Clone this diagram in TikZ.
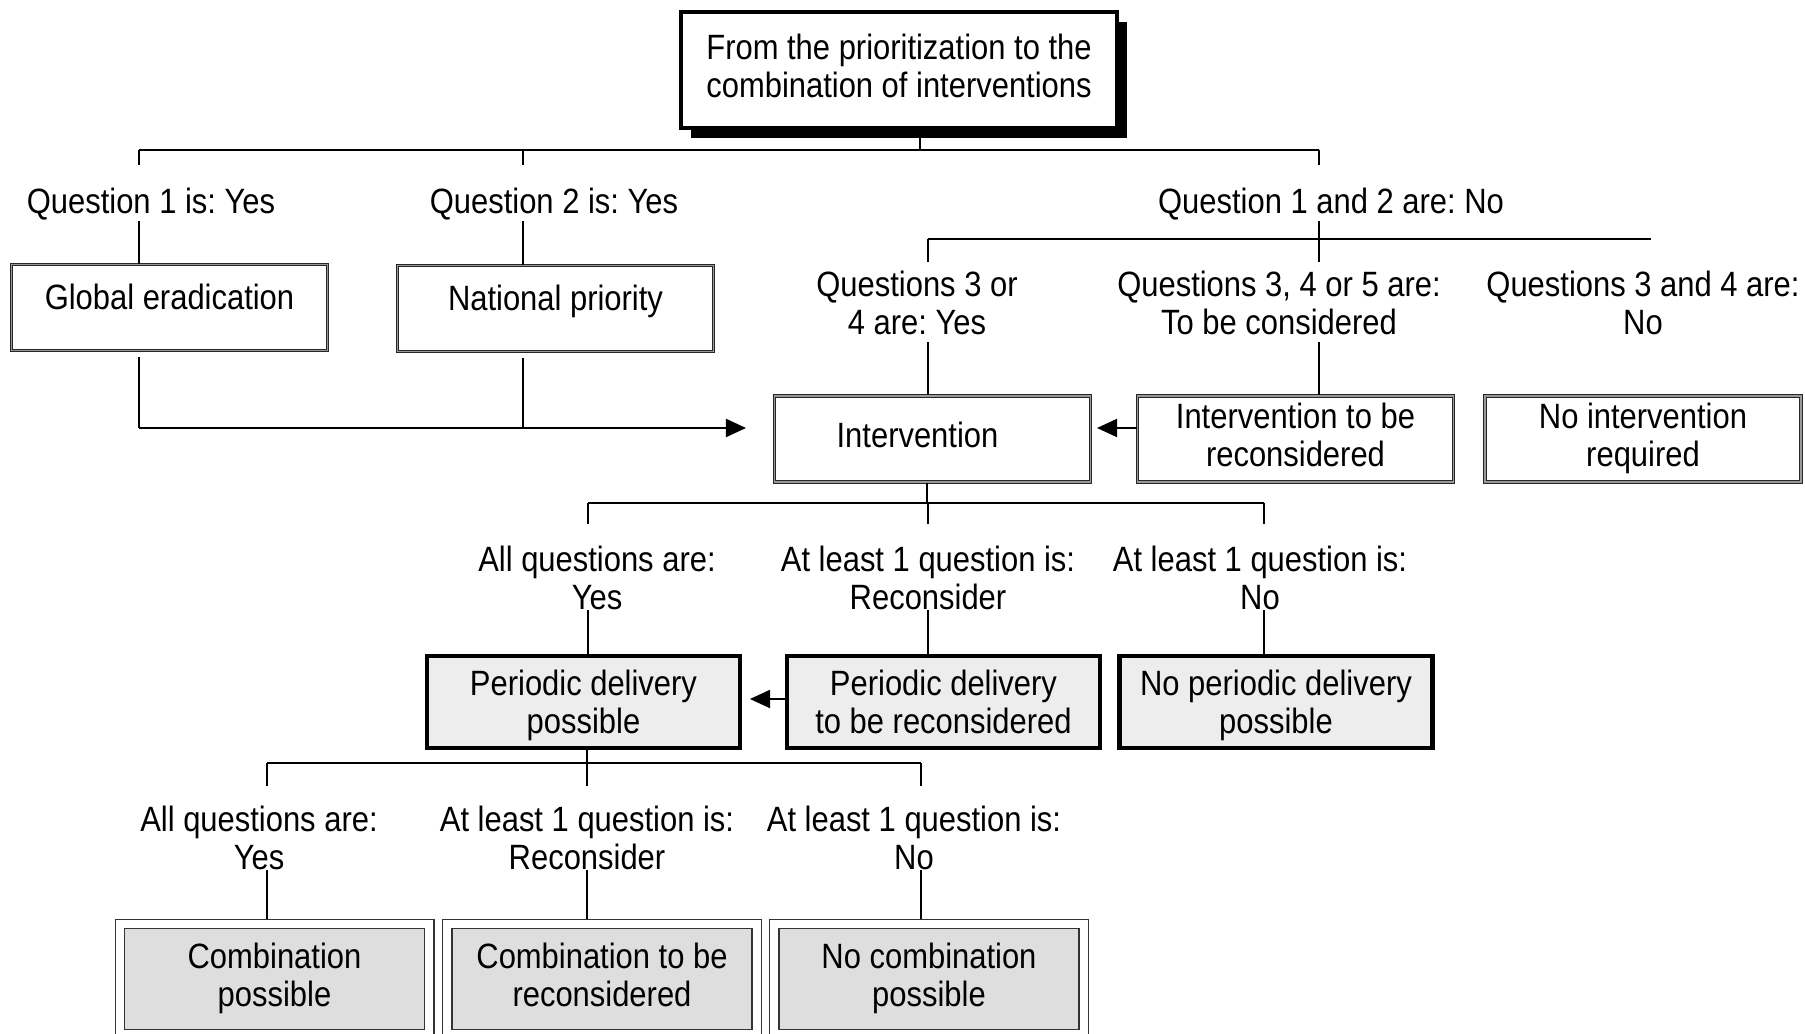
\documentclass[tikz,border=0pt]{standalone}
\usepackage{fontspec}
\setmainfont{Liberation Sans}[FakeStretch=0.88]
\usetikzlibrary{arrows.meta,shadows}
\frenchspacing

\begin{document}
\begin{tikzpicture}[x=0.01cm, y=-0.01cm, font=\fontsize{10}{10.8}\selectfont]

\tikzset{topbox/.style = {draw, line width=1.2pt, fill=white, align=center, text depth=2.2pt, minimum width=4.36cm, minimum height=1.16cm, drop shadow={shadow xshift=0.1cm, shadow yshift=-0.1cm, fill=black, opacity=1}}}
\tikzset{plainbox/.style = {draw=black!85, double=black!40, double distance=0.35pt, line width=0.35pt, align=center, text depth=2.2pt, inner ysep=1pt, minimum width=3.16cm, minimum height=0.86cm}}
\tikzset{deliverbox/.style = {draw, line width=1.3pt, fill=black!7, align=center, text depth=0pt, inner ysep=1pt, minimum width=3.13cm, minimum height=0.92cm}}
\tikzset{combobox/.style = {draw=black!80, double=white, double distance=0.08cm, line width=0.4pt, fill=black!13, align=center, text depth=2.2pt, inner ysep=1pt, minimum width=3.09cm, minimum height=1.10cm, outer sep=0.05cm}}
\tikzset{answer/.style = {align=center, inner sep=0pt}}
\tikzset{edge/.style = {line width=0.55pt}}
\tikzset{arrow/.style = {edge, -{Triangle[length=0.2cm, width=0.18cm]}}}

\useasboundingbox (0,0) rectangle (1805,1034);

% boxes
\node[topbox] (top) at (899,70) {From the prioritization to the\\combination of interventions};
\node[plainbox, text depth=6pt] (glob) at (169.5,307.5) {Global eradication};
\node[plainbox, text depth=6pt] (natl) at (555.5,308.5) {National priority};
\node[plainbox] (intv) at (932.5,439) {Intervention\hspace*{0.3cm}};
\node[plainbox] (intvre) at (1295.5,439) {Intervention to be\\reconsidered};
\node[plainbox] (nointv) at (1643,439) {No intervention\\required};
\node[deliverbox] (pd) at (583.5,702) {Periodic delivery\\possible};
\node[deliverbox] (pdre) at (943.5,702) {Periodic delivery\\to be reconsidered};
\node[deliverbox] (nopd) at (1276,702) {No periodic delivery\\possible};
\node[combobox] (comb) at (274.5,979) {Combination\\possible};
\node[combobox] (combre) at (602,979) {Combination to be\\reconsidered};
\node[combobox] (nocomb) at (929,979) {No combination\\possible};

% answers
\node[answer] (q1) at (151,204.5) {Question 1 is: Yes};
\node[answer] (q2) at (554,204.5) {Question 2 is: Yes};
\node[answer] (q3) at (1331,204.5) {Question 1 and 2 are: No};
\node[answer] (q4) at (917,302.5) {Questions 3 or\\4 are: Yes};
\node[answer] (q5) at (1279,302.5) {Questions 3, 4 or 5 are:\\To be considered};
\node[answer] (q6) at (1643,302.5) {Questions 3 and 4 are:\\No};
\node[answer] (r1) at (597,577.5) {All questions are:\\Yes};
\node[answer] (r2) at (928,577.5) {At least 1 question is:\\Reconsider};
\node[answer] (r3) at (1260,577.5) {At least 1 question is:\\No};
\node[answer] (s1) at (259,837.5) {All questions are:\\Yes};
\node[answer] (s2) at (587,837.5) {At least 1 question is:\\Reconsider};
\node[answer] (s3) at (914,837.5) {At least 1 question is:\\No};

% joints
\coordinate (t0) at (920,150);
\coordinate (t1) at (139,150);
\coordinate (t2) at (523,150);
\coordinate (t3) at (1319,150);
\coordinate (w1) at (928,239);
\coordinate (w2) at (1651,239);
\coordinate (mtip) at (746,428);
\coordinate (rtip) at (1097,428);
\coordinate (u0) at (927,503);
\coordinate (u1) at (588,503);
\coordinate (u2) at (928,503);
\coordinate (u3) at (1264,503);
\coordinate (ptip) at (750,699);
\coordinate (v0) at (587,763);
\coordinate (v1) at (267,763);
\coordinate (v3) at (921,763);

%edges
\begin{scope}[every path/.style={edge}]
       \draw (t0 |- top.south) -- (t0);
       \draw (t1) -- (t3);
       \draw[shorten >=0.23cm] (t1) -- (t1 |- q1.north);
       \draw[shorten >=0.23cm] (t2) -- (t2 |- q2.north);
       \draw[shorten >=0.23cm] (t3) -- (t3 |- q3.north);
       \draw (t1 |- q1.south) -- (t1 |- glob.north);
       \draw (t2 |- q2.south) -- (t2 |- natl.north);
       \draw[shorten >=0.08cm] (t3 |- q3.south) -- (t3 |- q5.north);
       \draw (w1) -- (w2);
       \draw[shorten >=0.08cm] (w1) -- (w1 |- q4.north);
       \draw[shorten <=0.07cm] (w1 |- q4.south) -- (w1 |- intv.north);
       \draw[shorten <=0.07cm] (t3 |- q5.south) -- (t3 |- intvre.north);
       \draw[shorten <=0.06cm] (t1 |- glob.south) -- (t1 |- mtip);
       \draw[shorten <=0.06cm] (t2 |- natl.south) -- (t2 |- mtip);
       \draw[arrow] (t1 |- mtip) -- (mtip);
       \draw[arrow] (intvre.west |- rtip) -- (rtip);
       \draw (u0 |- intv.south) -- (u0);
       \draw (u1) -- (u3);
       \draw[shorten >=0.21cm] (u1) -- (u1 |- r1.north);
       \draw[shorten >=0.21cm] (u2) -- (u2 |- r2.north);
       \draw[shorten >=0.21cm] (u3) -- (u3 |- r3.north);
       \draw (u1 |- r1.south) -- (u1 |- pd.north);
       \draw (u2 |- r2.south) -- (u2 |- pdre.north);
       \draw (u3 |- r3.south) -- (u3 |- nopd.north);
       \draw[arrow] (pdre.west |- ptip) -- (ptip);
       \draw (v0 |- pd.south) -- (v0);
       \draw (v1) -- (v3);
       \draw[shorten >=0.19cm] (v1) -- (v1 |- s1.north);
       \draw[shorten >=0.19cm] (v0) -- (v0 |- s2.north);
       \draw[shorten >=0.19cm] (v3) -- (v3 |- s3.north);
       \draw (v1 |- s1.south) -- (v1 |- comb.north);
       \draw (v0 |- s2.south) -- (v0 |- combre.north);
       \draw (v3 |- s3.south) -- (v3 |- nocomb.north);
\end{scope}

\end{tikzpicture}
\end{document}
